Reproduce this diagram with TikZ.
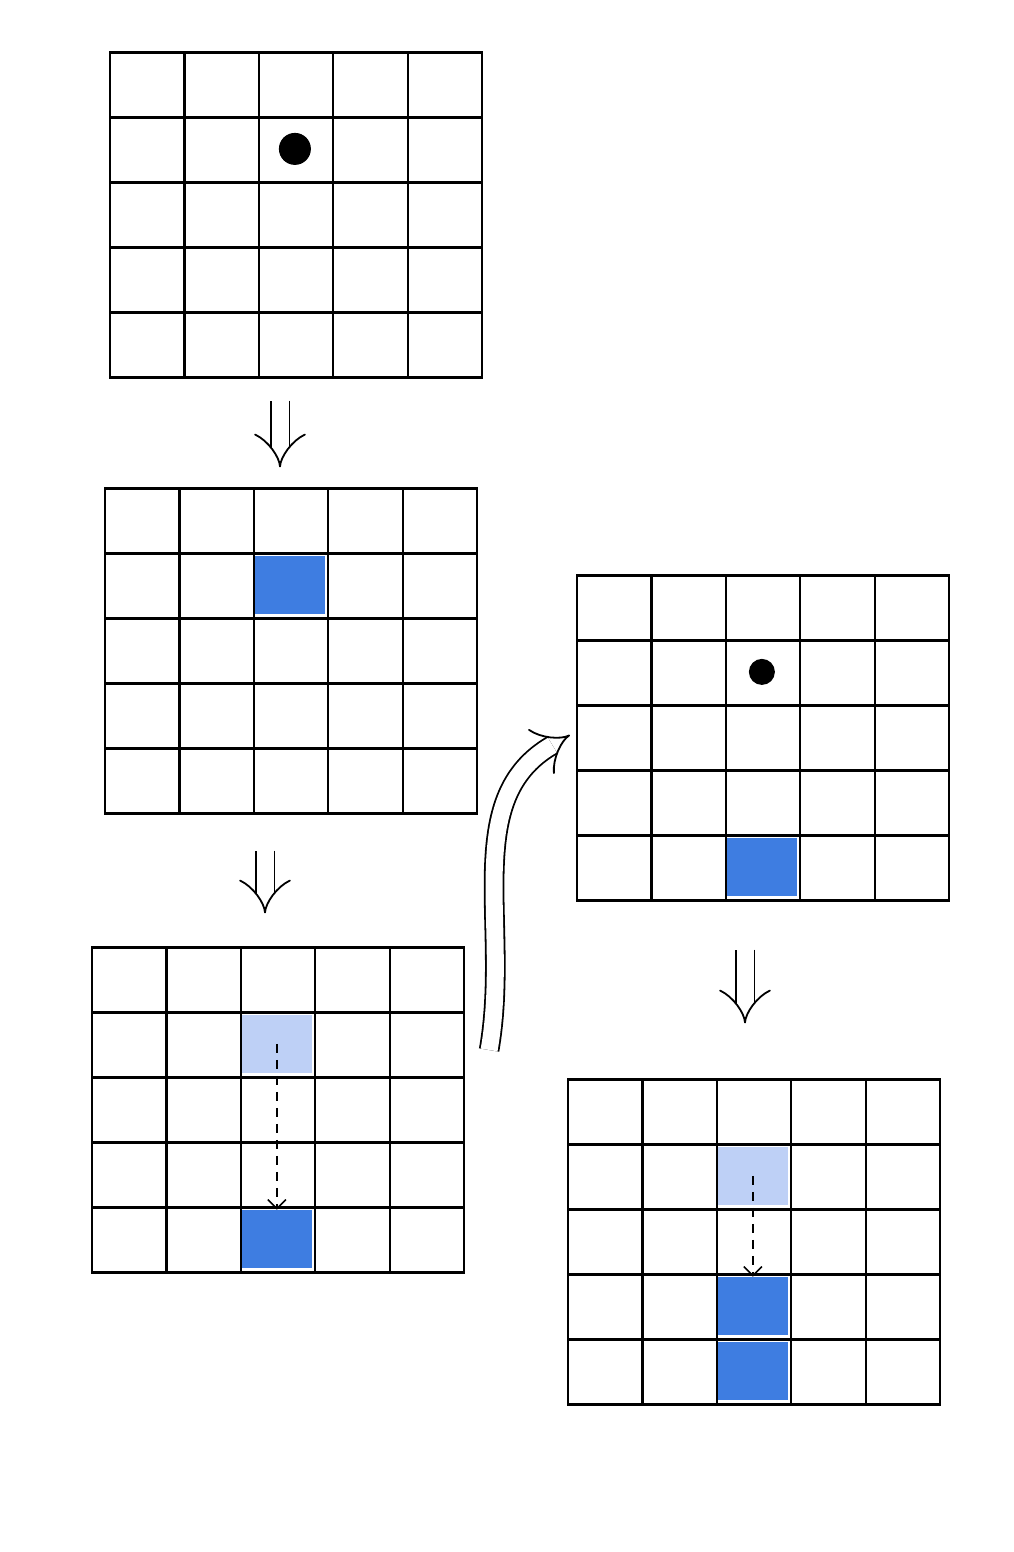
\documentclass[tikz,border=0pt]{standalone}
\usetikzlibrary{arrows.meta,calc,positioning}
\definecolor{boxblue}{RGB}{62,125,225}
\definecolor{paleblue}{RGB}{190,208,246}

\tikzset{
  board/.style={draw,line width=2.2pt,minimum width=372pt,minimum height=325pt,inner sep=0pt,
    path picture={
      \foreach \k in {1,...,4}{
        \draw[line width=2.2pt] ($(path picture bounding box.north west)!\k/5!(path picture bounding box.north east)$)
          -- ($(path picture bounding box.south west)!\k/5!(path picture bounding box.south east)$);
        \draw[line width=2.2pt] ($(path picture bounding box.north west)!\k/5!(path picture bounding box.south west)$)
          -- ($(path picture bounding box.north east)!\k/5!(path picture bounding box.south east)$);
      }}},
  cellfill/.style={fill=#1,minimum width=70pt,minimum height=58pt,inner sep=0pt},
  token/.style={circle,fill=black,minimum size=#1,inner sep=0pt},
  bigarrow/.style={double,double distance=17pt,line width=1.8pt,-{Implies}},
  drop/.style={dash pattern=on 9pt off 7pt,line width=1.6pt,-{Straight Barb[length=9pt,width=18pt]}},
}

\begin{document}
\begin{tikzpicture}[x=1pt,y=-1pt]
\useasboundingbox (0,0) rectangle (1014,1552);

% boards
\node[board] (gA) at (296,215) {};
\node[board] (gB) at (291,651) {};
\node[board] (gC) at (278,1110) {};
\node[board] (gD) at (763,738) {};
\node[board] (gE) at (754,1242) {};

% pieces
\node[token=32pt] (tA) at ($(gA.north west)+(186,97.5)$) {};
\node[cellfill=boxblue] (cB2) at ($(gB.north west)+(186,97.5)$) {};
\node[cellfill=paleblue] (cC2) at ($(gC.north west)+(186,97.5)$) {};
\node[cellfill=boxblue] (cC5) at ($(gC.north west)+(186,292.5)$) {};
\node[token=26pt] (tD) at ($(gD.north west)+(186,97.5)$) {};
\node[cellfill=boxblue] (cD5) at ($(gD.north west)+(186,292.5)$) {};
\node[cellfill=paleblue] (cE2) at ($(gE.north west)+(186,97.5)$) {};
\node[cellfill=boxblue] (cE4) at ($(gE.north west)+(186,227.5)$) {};
\node[cellfill=boxblue] (cE5) at ($(gE.north west)+(186,292.5)$) {};

% falling
\draw[drop] (cC2.center) -- (cC5.north);
\draw[drop] (cE2.center) -- (cE4.north);

% steps
\draw[bigarrow,shorten <=22pt,shorten >=20pt] ([xshift=-16pt]gA.south) -- ([xshift=-11pt]gB.north);
\draw[bigarrow,shorten <=36pt,shorten >=33pt] ([xshift=-26pt]gB.south) -- ([xshift=-13pt]gC.north);
\draw[bigarrow,shorten <=48pt,shorten >=55pt] ([xshift=-18pt]gD.south) -- ([xshift=-9pt]gE.north);
\draw[bigarrow] ([xshift=24pt,yshift=60pt]gC.east) to[out=80,in=210] ([xshift=-6pt,yshift=3pt]gD.west);
\end{tikzpicture}
\end{document}
